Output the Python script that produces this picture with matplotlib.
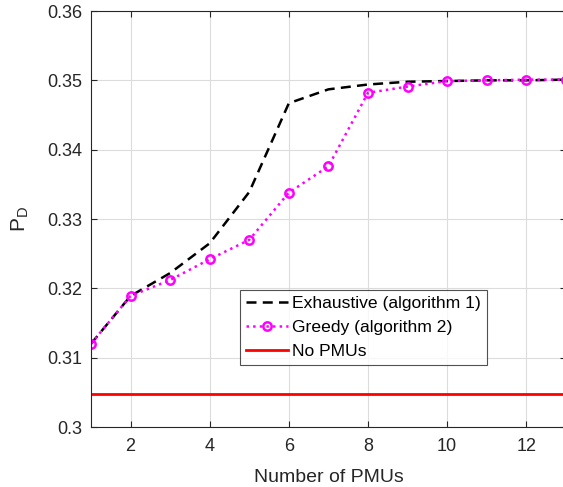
import numpy as np
from matplotlib import pyplot as plt

plt.rcParams['font.family'] = ['Liberation Sans', 'DejaVu Sans']
plt.rcParams['mathtext.fontset'] = 'custom'
plt.rcParams['mathtext.rm'] = 'Liberation Sans'

n_pmus = np.arange(1, 14)
exhaustive = [0.3120, 0.3189, 0.3222, 0.3265, 0.3339, 0.3467, 0.3487,
              0.3494, 0.3498, 0.3499, 0.3500, 0.3500, 0.3501]
greedy = [0.3120, 0.3189, 0.3212, 0.3242, 0.3270, 0.3338, 0.3376,
          0.3482, 0.3491, 0.3499, 0.3500, 0.3501, 0.3501]
no_pmus = 0.3047

fig = plt.figure(figsize=(5.63, 4.87), dpi=100)
ax = fig.add_axes([0.1616, 0.1232, 0.8435, 0.8542])

ax.plot(n_pmus, exhaustive, '--', color='k', lw=1.8, dashes=(4, 2.5),
        label='Exhaustive (algorithm 1)')
ax.plot(n_pmus, greedy, ':', color='#ff00ff', lw=1.8, marker='o', ms=6,
        mfc='none', mew=1.8, label='Greedy (algorithm 2)')
ax.axhline(no_pmus, color='#ff0000', lw=2, label='No PMUs')

ax.set_xlim(1, 13)
ax.set_ylim(0.30, 0.36)
ax.set_xticks([2, 4, 6, 8, 10, 12])
ax.set_yticks([0.30, 0.31, 0.32, 0.33, 0.34, 0.35, 0.36])
ax.set_yticklabels(['0.3', '0.31', '0.32', '0.33', '0.34', '0.35', '0.36'])
ax.grid(True, color='#dcdcdc', lw=0.8)
ax.set_axisbelow(True)
ax.tick_params(direction='in', length=4, labelsize=13, colors='#262626',
               top=True, right=True)
ax.tick_params(axis='x', pad=8)
ax.tick_params(axis='y', pad=6)
for s in ax.spines.values():
    s.set_color('#262626')
    s.set_linewidth(0.8)

ax.set_xlabel('Number of PMUs', fontsize=14, color='#262626', labelpad=10)
ax.set_ylabel(r'$\mathrm{P}_\mathrm{D}$', fontsize=15, color='#262626', labelpad=12)

leg = ax.legend(loc='upper left', bbox_to_anchor=(0.313, 0.330), fontsize=12.6,
                frameon=True, fancybox=False, edgecolor='#262626',
                handlelength=2.4, borderpad=0.35, labelspacing=0.5,
                handletextpad=0.25, borderaxespad=0)
leg.get_frame().set_linewidth(0.8)

fig.savefig('out.png', dpi=100)
